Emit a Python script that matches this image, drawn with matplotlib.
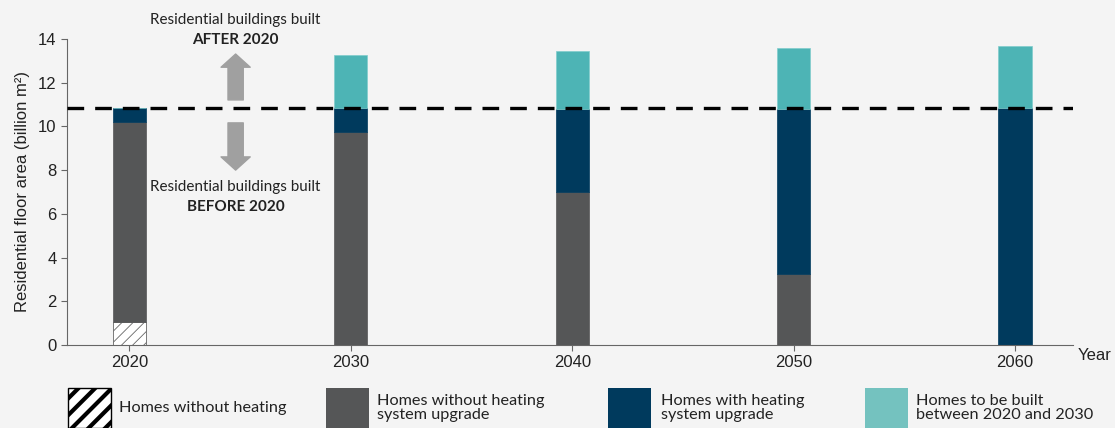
import matplotlib as mpl
from matplotlib import pyplot as plt
from matplotlib.patches import Rectangle
import numpy as np

years = [2020, 2030, 2040, 2050, 2060]
no_heating = [1.07, 0, 0, 0, 0]
no_upgrade = [9.14, 9.73, 7.01, 3.23, 0]
upgrade = [0.62, 1.10, 3.79, 7.57, 10.83]
new_build = [0, 2.44, 2.65, 2.78, 2.86]
baseline = 10.83

legend_labels = ['Homes without heating', 'Homes without heating\nsystem upgrade',
                 'Homes with heating\nsystem upgrade', 'Homes to be built\nbetween 2020 and 2030']

bg = '#f4f4f4'
grey = '#555657'
navy = '#003a5d'
teal = '#4db4b5'
teal_leg = '#74c2bf'
txt = '#222222'
sans = 'Lato'

mpl.rcParams['font.family'] = ['Liberation Sans', 'DejaVu Sans']
mpl.rcParams['hatch.linewidth'] = 0.6

fig = plt.figure(figsize=(11.15, 4.28), dpi=100, facecolor=bg)
ax = fig.add_axes([0.060, 0.194, 0.902, 0.715], facecolor=bg)

x = np.array(years)
w = 1.5
b1 = np.array(no_heating)
b2 = b1 + np.array(no_upgrade)
b3 = b2 + np.array(upgrade)

ax.bar(x, no_heating, w, color='white', edgecolor='#666666', hatch='///', linewidth=0.6)
ax.bar(x, no_upgrade, w, bottom=b1, color=grey, edgecolor=grey, linewidth=0.5)
ax.bar(x, upgrade, w, bottom=b2, color=navy, edgecolor=navy, linewidth=0.5)
ax.bar(x, new_build, w, bottom=b3, color=teal, edgecolor='#7fcccc', linewidth=0.5)

ax.axhline(baseline, color='black', lw=2.4, ls=(0, (5, 3.3)), zorder=5)

ax.set_xlim(2017.18, 2062.6)
ax.set_ylim(0, 14)
ax.set_xticks(years)
ax.set_yticks(range(0, 15, 2))
ax.tick_params(colors=txt, labelsize=12, length=4, color='#666666')
ax.spines[['top', 'right']].set_visible(False)
ax.spines[['left', 'bottom']].set_color('#666666')
ax.set_ylabel('Residential floor area (billion m²)', fontsize=12, color=txt, labelpad=6)
fig.text(0.982, 0.17, 'Year', fontsize=12, color=txt, ha='center', va='center')

# annotations
ax_x = 2024.8
ax.text(ax_x, 14.87, 'Residential buildings built', ha='center', va='center',
        fontsize=11, family=sans, color=txt, clip_on=False)
ax.text(ax_x, 13.95, 'AFTER 2020', ha='center', va='center',
        fontsize=11, family=sans, weight='bold', color=txt, clip_on=False)
ax.text(ax_x, 7.23, 'Residential buildings built', ha='center', va='center',
        fontsize=11, family=sans, color=txt)
ax.text(ax_x, 6.31, 'BEFORE 2020', ha='center', va='center',
        fontsize=11, family=sans, weight='bold', color=txt)
arrow = dict(arrowstyle='simple,head_length=0.95,head_width=2.1,tail_width=1.1',
             color='#a0a0a0', shrinkA=0, shrinkB=0, mutation_scale=10)
ax.annotate('', xy=(ax_x, 13.31), xytext=(ax_x, 11.21), arrowprops=arrow)
ax.annotate('', xy=(ax_x, 8.0), xytext=(ax_x, 10.16), arrowprops=arrow)

# legend along the bottom
W, H = 1115, 428
patch_x = [68, 326, 608, 865]
text_x = [119, 377, 661, 916]
colors = ['white', grey, navy, teal_leg]
for i in range(4):
    r = Rectangle((patch_x[i] / W, 0), 43 / W, 40 / H, transform=fig.transFigure,
                  facecolor=colors[i], edgecolor='black' if i == 0 else colors[i],
                  linewidth=1 if i == 0 else 0, hatch='//' if i == 0 else None)
    if i == 0:
        try:
            r.set_hatch_linewidth(3)
        except AttributeError:
            pass
    fig.add_artist(r)
    fig.text(text_x[i] / W, 1 - 408 / H, legend_labels[i], fontsize=11.7, family=sans,
             color=txt, ha='left', va='center', linespacing=0.95)

fig.savefig('out.png', dpi=100, facecolor=bg)
